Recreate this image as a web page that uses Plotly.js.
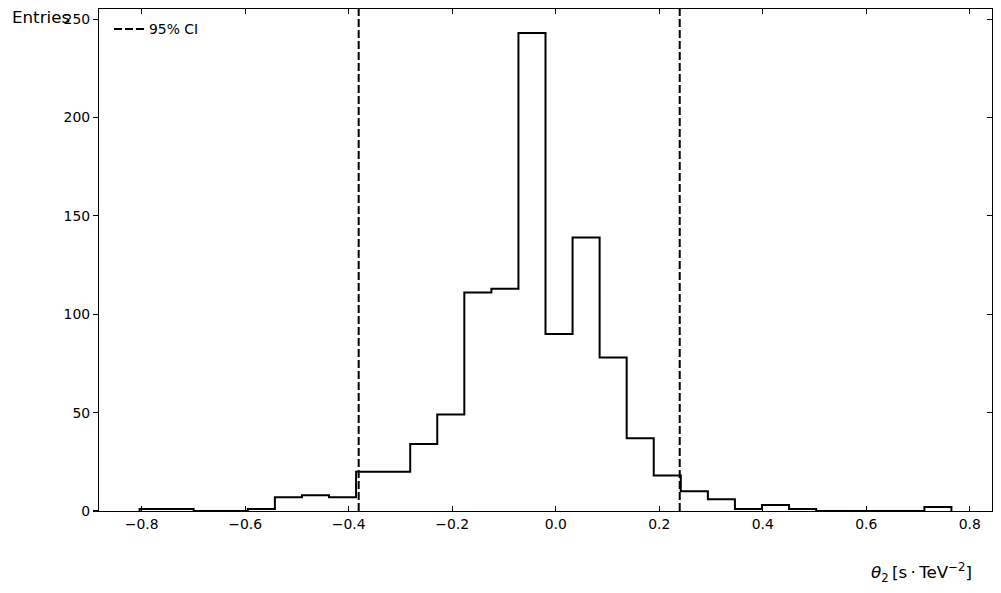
<!DOCTYPE html>
<html><head><meta charset="utf-8">
<script src="https://cdn.plot.ly/plotly-3.0.1.min.js"></script>
<style>html,body{margin:0;padding:0;background:#fff}</style>
</head><body>
<div id="chart" style="width:1001px;height:593px"></div>
<script>
// ---- data ----
const binLow = -0.804;
const binHigh = 0.7645;
const counts = [1,1,0,0,1,7,8,7,20,20,34,49,111,113,243,90,139,78,37,18,10,6,1,3,1,0,0,0,0,2];
const ciBounds = [-0.3807, 0.2396];
const ciLabel = '95% CI';
const xTickVals = [-0.8,-0.6,-0.4,-0.2,0.0,0.2,0.4,0.6,0.8];
const yTickVals = [0,50,100,150,200,250];
const yLabel = 'Entries';
const xLabel = '<i>θ</i><sub>2</sub>\u2009[s\u2009·\u2009TeV<sup>−2</sup>]';

// ---- build step outline from bins ----
const nb = counts.length;
const bw = (binHigh - binLow) / nb;
const edges = Array.from({length: nb + 1}, (_, i) => binLow + i * bw);
const sx = [edges[0]], sy = [0];
for (let i = 0; i < nb; i++) { sx.push(edges[i]); sy.push(counts[i]); }
sx.push(edges[nb]); sy.push(counts[nb - 1]);
sx.push(edges[nb]); sy.push(0);

const yTop = Math.max(...counts) * 1.05;
const xPad = (binHigh - binLow) * 0.05;
const xRange = [binLow - xPad, binHigh + xPad];

const FONT = 'DejaVu Sans, Liberation Sans, sans-serif';

const traces = [
  {
    type: 'scatter', mode: 'lines', x: sx, y: sy,
    line: {shape: 'hv', color: '#000', width: 2},
    showlegend: false, hoverinfo: 'skip'
  },
  {
    type: 'scatter', mode: 'lines',
    x: [ciBounds[0], ciBounds[0], null, ciBounds[1], ciBounds[1]],
    y: [0, yTop, null, 0, yTop],
    line: {color: '#000', width: 2, dash: '8px,3px'},
    name: ciLabel, showlegend: true, hoverinfo: 'skip'
  },
  {
    type: 'scatter', mode: 'lines', x: [null], y: [null], yaxis: 'y2',
    showlegend: false, hoverinfo: 'skip'
  }
];

const layout = {
  width: 1001, height: 593,
  margin: {l: 99, r: 9, t: 9, b: 82, pad: 0},
  paper_bgcolor: '#fff', plot_bgcolor: '#fff',
  font: {family: FONT, size: 13.9, color: '#000'},
  showlegend: true,
  legend: {
    x: 0.0112, y: 0.991, xanchor: 'left', yanchor: 'top',
    bgcolor: 'rgba(0,0,0,0)', borderwidth: 0,
    font: {family: FONT, size: 13.9, color: '#000'}
  },
  xaxis: {
    range: xRange, tickvals: xTickVals, tickformat: '.1f',
    ticks: 'inside', ticklen: 5, tickwidth: 1.1, tickcolor: '#000',
    showline: true, linecolor: '#000', linewidth: 1.1, mirror: 'ticks',
    showgrid: false, zeroline: false,
    tickfont: {family: FONT, size: 13.9, color: '#000'}
  },
  yaxis: {
    range: [0, yTop], tickvals: yTickVals,
    ticks: 'outside', ticklen: 5, tickwidth: 1.1, tickcolor: '#000',
    showline: true, linecolor: '#000', linewidth: 1.1, mirror: false,
    showgrid: false, zeroline: false,
    tickfont: {family: FONT, size: 13.9, color: '#000'}
  },
  yaxis2: {
    overlaying: 'y', side: 'right', range: [0, yTop], tickvals: yTickVals,
    ticks: 'inside', ticklen: 5, tickwidth: 1.1, tickcolor: '#000',
    showline: true, linecolor: '#000', linewidth: 1.1,
    showticklabels: false, showgrid: false, zeroline: false
  },
  annotations: [
    {
      text: yLabel, xref: 'paper', yref: 'paper',
      x: (10 - 99) / 893, y: (511 - 17) / 502, xanchor: 'left', yanchor: 'middle',
      showarrow: false, font: {family: FONT, size: 16.7, color: '#000'}
    },
    {
      text: xLabel, xref: 'paper', yref: 'paper',
      x: (974 - 99) / 893, y: (511 - 572) / 502, xanchor: 'right', yanchor: 'middle',
      showarrow: false, font: {family: FONT, size: 16.7, color: '#000'}
    }
  ]
};

Plotly.newPlot('chart', traces, layout, {staticPlot: true, displayModeBar: false});
</script>
</body></html>
